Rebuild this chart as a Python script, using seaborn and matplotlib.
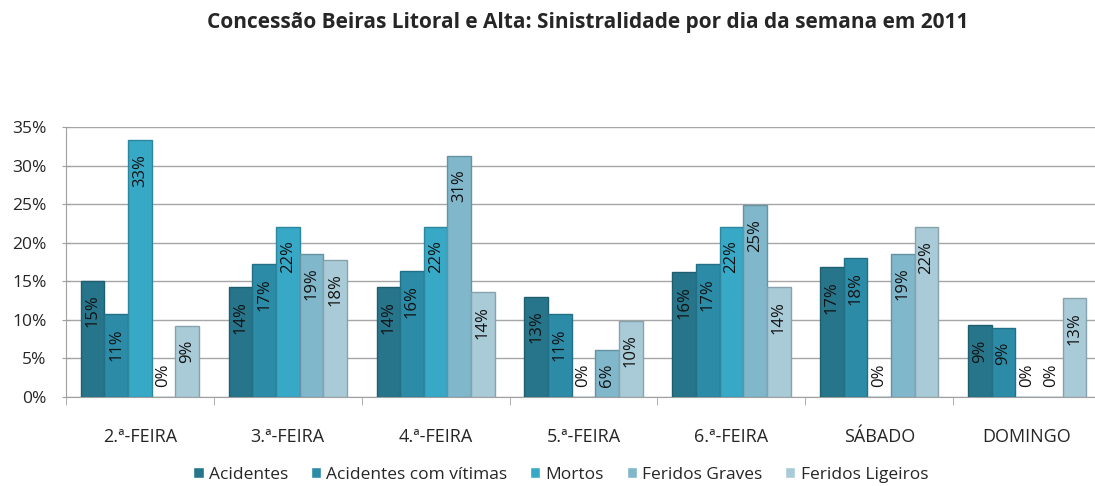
import pandas as pd
import numpy as np
import matplotlib.pyplot as plt
import seaborn as sns

# dados (percentagens)
dias = ['2.ª-FEIRA', '3.ª-FEIRA', '4.ª-FEIRA', '5.ª-FEIRA', '6.ª-FEIRA', 'SÁBADO', 'DOMINGO']
series = ['Acidentes', 'Acidentes com vítimas', 'Mortos', 'Feridos Graves', 'Feridos Ligeiros']
acidentes = [15.1, 14.2, 14.2, 13.0, 16.2, 16.8, 9.3]
acidentes_vitimas = [10.7, 17.2, 16.3, 10.7, 17.2, 18.0, 9.0]
mortos = [33.3, 22.1, 22.1, 0.0, 22.1, 0.0, 0.0]
feridos_graves = [0.0, 18.6, 31.3, 6.1, 24.9, 18.6, 0.0]
feridos_ligeiros = [9.2, 17.8, 13.6, 9.9, 14.2, 22.0, 12.8]
cores = ['#27758b', '#2c8ca7', '#37a9c6', '#80b7ca', '#a9cbd7']

valores = [acidentes, acidentes_vitimas, mortos, feridos_graves, feridos_ligeiros]
df = pd.DataFrame({
    'dia': dias * len(series),
    'serie': [s for s in series for _ in dias],
    'valor': [v for vals in valores for v in vals],
})

sns.set_style('white')
plt.rcParams['font.family'] = ['Open Sans', 'DejaVu Sans']

fig = plt.figure(figsize=(10.95, 4.86), dpi=100)
ax = fig.add_axes([66 / 1095, 89 / 486, 1035 / 1095, 270 / 486])

sns.barplot(data=df, x='dia', y='valor', hue='serie', order=dias, hue_order=series,
            palette=cores, saturation=1, width=0.8, ax=ax, legend=True, zorder=3)

# contorno mais escuro nas barras
for cont, cor in zip(ax.containers, cores):
    for p in cont:
        p.set_edgecolor(tuple(c * 0.8 for c in plt.matplotlib.colors.to_rgb(cor)))
        p.set_linewidth(1.0)

# rótulos de dados (rodados, dentro da barra)
for cont in ax.containers:
    for p in cont:
        h = p.get_height()
        x = p.get_x() + p.get_width() / 2
        txt = f'{round(h):.0f}%'
        if h > 1:
            ax.annotate(txt, (x, h), xytext=(0, -10), textcoords='offset points',
                        rotation=90, ha='center', va='top', fontsize=12, color='#111111', zorder=5)
        else:
            ax.annotate(txt, (x, 0), xytext=(0, 7), textcoords='offset points',
                        rotation=90, ha='center', va='bottom', fontsize=12, color='#111111', zorder=5)

ax.set_ylim(0, 35)
ax.set_xlim(-0.5, len(dias) - 0.5)
ax.set_yticks(np.arange(0, 36, 5))
ax.set_yticklabels([f'{v}%' for v in range(0, 36, 5)])
ax.yaxis.grid(True, color='#a6a6a6', linewidth=1.0, zorder=0)
ax.xaxis.grid(False)
ax.set_xlabel('')
ax.set_ylabel('')

for s in ['top', 'right']:
    ax.spines[s].set_visible(False)
ax.spines['left'].set_color('#a0a0a0')
ax.spines['bottom'].set_color('#a0a0a0')

ax.tick_params(axis='y', direction='inout', length=6, color='#a0a0a0', labelsize=12.5, pad=11, left=True)
ax.tick_params(axis='x', which='major', length=0, labelsize=13, pad=22)
ax.set_xticks(np.arange(-0.5, len(dias), 1), minor=True)
ax.tick_params(axis='x', which='minor', direction='out', length=6, color='#a0a0a0', bottom=True)

handles, labels = ax.get_legend_handles_labels()
ax.legend_.remove()
fig.legend(handles, labels, loc='center', bbox_to_anchor=(0.512, 0.023), ncol=5, frameon=False,
           handlelength=0.6, handleheight=0.6, handletextpad=0.3, columnspacing=1.3, fontsize=12.5)

fig.text(0.537, 0.953, 'Concessão Beiras Litoral e Alta: Sinistralidade por dia da semana em 2011',
         ha='center', va='center', fontsize=15, fontweight='bold')

fig.savefig('out.png', dpi=100)
